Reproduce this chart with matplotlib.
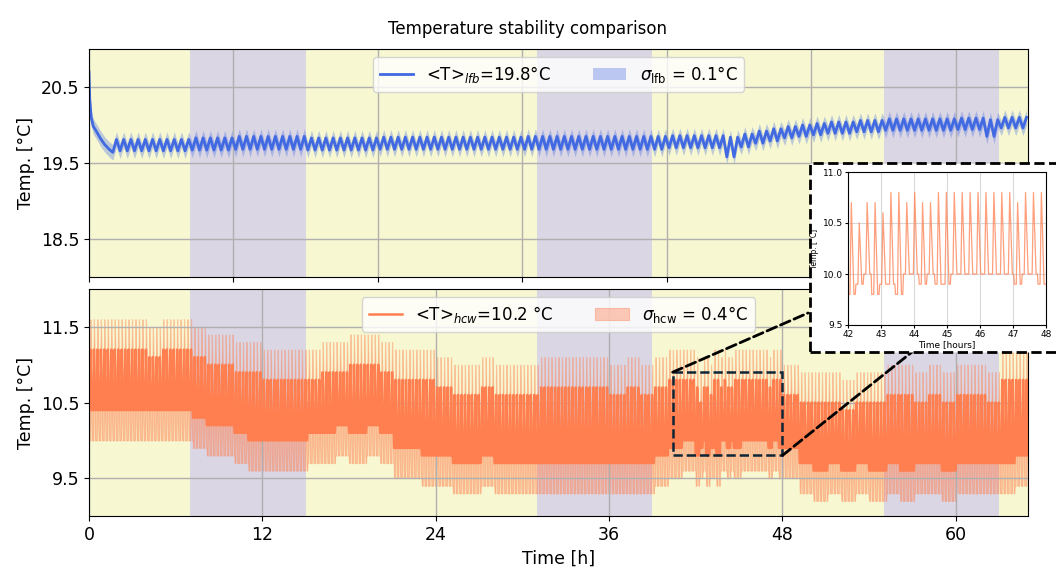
import numpy as np
import matplotlib.pyplot as plt
from matplotlib.patches import Rectangle, ConnectionPatch

# ---- data ----------------------------------------------------------------
# lfb: start-up transient, then peak / trough of the ~30 min oscillation, per hour
lfb_start_t = [0.0, 0.05, 0.15, 0.3, 0.5, 0.8, 1.1, 1.4, 1.65]
lfb_start_T = [20.70, 20.35, 20.10, 19.98, 19.92, 19.82, 19.74, 19.68, 19.64]
lfb_hi = [19.81, 19.81, 19.81, 19.81, 19.81, 19.81, 19.81, 19.83, 19.83, 19.83,
          19.85, 19.85, 19.85, 19.85, 19.85, 19.83, 19.83, 19.83, 19.83, 19.83,
          19.84, 19.84, 19.84, 19.84, 19.84, 19.84, 19.84, 19.84, 19.84, 19.84,
          19.85, 19.85, 19.85, 19.85, 19.85, 19.85, 19.85, 19.85, 19.85, 19.85,
          19.86, 19.86, 19.86, 19.86, 19.84, 19.88, 19.92, 19.95, 19.98, 20.00,
          20.02, 20.04, 20.04, 20.06, 20.06, 20.08, 20.08, 20.08, 20.08, 20.08,
          20.09, 20.09, 20.07, 20.10, 20.10]
lfb_lo = [19.66, 19.66, 19.66, 19.66, 19.66, 19.66, 19.66, 19.67, 19.67, 19.67,
          19.68, 19.68, 19.68, 19.68, 19.68, 19.67, 19.67, 19.67, 19.67, 19.67,
          19.68, 19.68, 19.68, 19.68, 19.68, 19.68, 19.68, 19.68, 19.68, 19.68,
          19.68, 19.68, 19.68, 19.68, 19.68, 19.68, 19.68, 19.68, 19.68, 19.68,
          19.70, 19.70, 19.70, 19.70, 19.58, 19.71, 19.76, 19.79, 19.83, 19.85,
          19.87, 19.89, 19.89, 19.91, 19.91, 19.93, 19.93, 19.93, 19.93, 19.93,
          19.94, 19.94, 19.85, 19.96, 19.96]
lfb_sigma = 0.1

# hcw: peak / base level of the ~15 min cycles, per hour
hcw_hi = [11.2, 11.2, 11.2, 11.2, 11.1, 11.2, 11.2, 11.1, 11.0, 11.0,
          10.9, 10.9, 10.8, 10.8, 10.8, 10.8, 10.9, 10.9, 11.0, 11.0,
          10.9, 10.8, 10.8, 10.8, 10.7, 10.6, 10.6, 10.7, 10.6, 10.6,
          10.6, 10.7, 10.7, 10.7, 10.7, 10.7, 10.6, 10.7, 10.6, 10.7,
          10.8, 10.8, 10.8, 10.8, 10.8, 10.8, 10.8, 10.8, 10.6, 10.5,
          10.5, 10.5, 10.4, 10.5, 10.5, 10.6, 10.6, 10.5, 10.6, 10.5,
          10.6, 10.6, 10.5, 10.8, 10.8]
hcw_lo = [10.4, 10.4, 10.4, 10.4, 10.4, 10.4, 10.4, 10.3, 10.2, 10.2,
          10.1, 10.0, 10.0, 10.0, 10.0, 10.1, 10.1, 10.2, 10.1, 10.2,
          10.1, 9.9, 9.9, 9.8, 9.8, 9.7, 9.7, 9.8, 9.7, 9.7,
          9.7, 9.7, 9.7, 9.7, 9.7, 9.7, 9.7, 9.7, 9.7, 9.8,
          9.9, 10.0, 10.0, 10.0, 10.0, 10.0, 10.0, 10.0, 9.9, 9.7,
          9.6, 9.7, 9.6, 9.7, 9.6, 9.7, 9.6, 9.7, 9.7, 9.6,
          9.7, 9.7, 9.7, 9.7, 9.8]
hcw_sigma = 0.4
# 42-48 h, cycle by cycle (from the zoomed inset)
zoom_peaks = [10.7, 10.5, 10.7, 10.7, 10.6, 10.8, 10.8, 10.7, 10.8, 10.7,
              10.7, 10.8, 10.8, 10.8, 10.8, 10.8, 10.8, 10.8, 10.8, 10.8,
              10.8, 10.7, 10.8, 10.8, 10.8]
zoom_base = [9.8, 9.9, 10.0, 9.8, 9.9, 9.9, 9.8, 10.0, 10.0, 9.9,
             10.0, 9.9, 9.9, 10.0, 10.0, 10.0, 10.0, 10.0, 10.0, 10.0,
             10.0, 9.9, 10.0, 10.0, 9.9]
# one hcw cycle (0 = base, 1 = peak)
cycle_shape = [0, 0, 0, 0, 0.5, 1, 0.75, 0.5, 0.25, 0, 0, 0]
hcw_period = 0.24

night = [(7, 15), (31, 39), (55, 63)]

# ---- build the series ------------------------------------------------------
t_lfb = list(lfb_start_t)
T_lfb = list(lfb_start_T)
for i, t in enumerate(np.arange(1.9, 65.01, 0.25)):
    h = min(int(t), 64)
    t_lfb.append(t)
    T_lfb.append(lfb_hi[h] if i % 2 == 0 else lfb_lo[h])
t_lfb = np.array(t_lfb)
T_lfb = np.array(T_lfb)

first_zoom = int(round(42 / hcw_period))
t_hcw, T_hcw = [], []
for k in range(int(65 / hcw_period) + 1):
    t0 = k * hcw_period
    h = min(int(t0 + 1e-9), 64)
    zi = k - first_zoom
    if 0 <= zi < len(zoom_peaks):
        hi, lo = zoom_peaks[zi], zoom_base[zi]
    else:
        hi, lo = hcw_hi[h], hcw_lo[h]
    for j, s in enumerate(cycle_shape):
        t_hcw.append(t0 + j * hcw_period / len(cycle_shape))
        T_hcw.append(lo + s * (hi - lo))
t_hcw = np.array(t_hcw)
T_hcw = np.array(T_hcw)

# ---- figure ----------------------------------------------------------------
W, H = 1056, 579
fig = plt.figure(figsize=(W / 100, H / 100), dpi=100)
ax1 = fig.add_axes([89 / W, 1 - 277 / H, 939 / W, 228 / H])
ax2 = fig.add_axes([89 / W, 1 - 516 / H, 939 / W, 227 / H])

day_col = '#f7f7d1'
night_col = '#dad6e4'

for ax in (ax1, ax2):
    ax.axvspan(0, 65, color=day_col, lw=0, zorder=0.5)
    for a, b in night:
        ax.axvspan(a, b, color=night_col, lw=0, zorder=0.6)
    ax.set_xlim(0, 65)
    ax.grid(True, color='#b0b0b0', lw=1)
    ax.tick_params(labelsize=12.5)
    ax.set_ylabel('Temp. [°C]', fontsize=12.5)

ax1.plot(t_lfb, T_lfb, color='royalblue', lw=2, label=r'<T>$_{lfb}$=19.8°C')
ax1.fill_between(t_lfb, T_lfb - lfb_sigma, T_lfb + lfb_sigma, color='royalblue',
                 alpha=0.33, lw=0, label=r'$\sigma_{\rm lfb}$ = 0.1°C')
ax1.set_ylim(18, 21)
ax1.set_yticks([18.5, 19.5, 20.5])
ax1.set_xticks(range(0, 61, 10))
ax1.set_xticklabels([])
ax1.legend(loc='upper center', ncol=2, fontsize=12, columnspacing=2.5)

ax2.plot(t_hcw, T_hcw, color='coral', lw=1.8, label=r'<T>$_{hcw}$=10.2 °C')
ax2.fill_between(t_hcw, T_hcw - hcw_sigma, T_hcw + hcw_sigma, facecolor='coral',
                 edgecolor='coral', alpha=0.4, lw=0.8,
                 label=r'$\sigma_{\rm hcw}$ = 0.4°C')
ax2.set_ylim(9, 12)
ax2.set_yticks([9.5, 10.5, 11.5])
ax2.set_xticks(range(0, 61, 12))
ax2.set_xlabel('Time [h]', fontsize=12.5)
ax2.legend(loc='upper center', ncol=2, fontsize=12, columnspacing=2.5)

# zoom box + connectors
ax2.add_patch(Rectangle((40.4, 9.8), 7.6, 1.1, fill=False, ec='#0d2536',
                        lw=1.8, ls='--', zorder=5))
for xa, xb in [((40.4, 10.9), (808 / W, 1 - 313 / H)),
               ((48.0, 9.8), (912 / W, 1 - 352 / H))]:
    con = ConnectionPatch(xyA=xa, coordsA=ax2.transData, xyB=xb,
                          coordsB=fig.transFigure, color='black', lw=2, ls='--')
    con.set_zorder(2.5)
    fig.add_artist(con)

frame = Rectangle((810 / W, 1 - 352 / H), 0.3, 189 / H, transform=fig.transFigure,
                  fc='white', ec='black', lw=2, ls='--', zorder=3)
fig.add_artist(frame)

axin = fig.add_axes([848 / W, 1 - 325 / H, 198 / W, 153 / H])
axin.set_zorder(4)
sel = (t_hcw >= 42) & (t_hcw <= 48)
axin.plot(t_hcw[sel], T_hcw[sel], color='coral', lw=0.9, alpha=0.75)
axin.set_xlim(42, 48)
axin.set_ylim(9.5, 11.0)
axin.set_yticks([9.5, 10.0, 10.5, 11.0])
axin.grid(True, color='#d8d8d8', lw=0.8)
axin.tick_params(labelsize=6.5, length=2, pad=1.5)
axin.set_xlabel('Time [hours]', fontsize=6.5, labelpad=1)
axin.set_ylabel('Temp. [°C]', fontsize=5.5, labelpad=3)

fig.suptitle('Temperature stability comparison', y=0.965, fontsize=12)

fig.savefig('out.png', dpi=100)
